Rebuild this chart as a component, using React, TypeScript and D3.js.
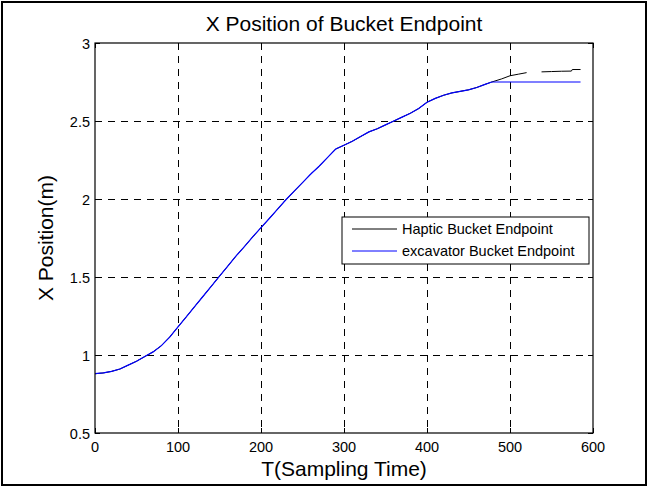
import React from "react";
import * as d3 from "d3";

// Sampling time (x) and bucket endpoint X position (m)
const timeSteps = [0, 10, 20, 30, 40, 50, 60, 70, 80, 90, 100, 110, 120, 130, 140, 150, 160, 170, 180, 190, 200, 210, 220, 230, 240, 250, 260, 270, 280, 290, 300, 310, 320, 330, 340, 350, 360, 370, 380, 390, 400, 410, 420, 430, 440, 450, 460, 470, 478];
const sharedPath = [0.88, 0.885, 0.895, 0.91, 0.935, 0.96, 0.99, 1.02, 1.06, 1.115, 1.18, 1.245, 1.31, 1.375, 1.44, 1.505, 1.57, 1.635, 1.695, 1.757, 1.816, 1.875, 1.935, 1.995, 2.05, 2.105, 2.16, 2.21, 2.265, 2.32, 2.345, 2.37, 2.4, 2.43, 2.45, 2.475, 2.5, 2.525, 2.55, 2.58, 2.62, 2.645, 2.665, 2.68, 2.69, 2.7, 2.715, 2.735, 2.75];

// Tail segments after the two series separate (null = gap in the record)
const hapticTailT = [490, 500, 510, 520, 529, 538, 550, 562, 574, 575, 585];
const hapticTailX: (number | null)[] = [2.77, 2.79, 2.8, 2.81, null, 2.815, 2.817, 2.819, 2.82, 2.83, 2.83];
const excavatorTailT = [480, 585];
const excavatorTailX = [2.75, 2.75];

const xTicks = [0, 100, 200, 300, 400, 500, 600];
const yTicks = [0.5, 1, 1.5, 2, 2.5, 3];

const legendLabels = ["Haptic Bucket Endpoint", "excavator Bucket Endpoint"];
const seriesColors = ["#000000", "#0000ff"];

type Pt = [number, number | null];

export default function App() {
  const W = 648;
  const H = 487;
  const left = 95, right = 593, top = 43, bottom = 433;

  const x = d3.scaleLinear().domain([0, 600]).range([left, right]);
  const y = d3.scaleLinear().domain([0.5, 3]).range([bottom, top]);

  const shared: Pt[] = timeSteps.map((t, i) => [t, sharedPath[i]]);
  const haptic: Pt[] = shared.concat(hapticTailT.map((t, i) => [t, hapticTailX[i]] as Pt));
  const excavator: Pt[] = shared.concat(excavatorTailT.map((t, i) => [t, excavatorTailX[i]] as Pt));

  const line = d3
    .line<Pt>()
    .defined((d) => d[1] !== null)
    .x((d) => x(d[0]))
    .y((d) => y(d[1] as number));

  const font = "Liberation Sans, Arial, Helvetica, sans-serif";
  const tickLen = 5;

  const legX = 342, legY = 217, legW = 247, legH = 47;

  return (
    <svg
      width={W}
      height={H}
      style={{ position: "absolute", left: 0, top: 0, background: "#fff" }}
      fontFamily={font}
    >
      <rect x={0} y={0} width={W} height={H} fill="#fff" />
      <rect x={2} y={2} width={W - 4} height={H - 4} fill="none" stroke="#000" strokeWidth={2} />

      {/* grid */}
      <g stroke="#000" strokeWidth={1} strokeDasharray="7,6" shapeRendering="crispEdges">
        {xTicks.slice(1, -1).map((t) => (
          <line key={"gx" + t} x1={x(t)} x2={x(t)} y1={top} y2={bottom} />
        ))}
        {yTicks.slice(1, -1).map((v) => (
          <line key={"gy" + v} x1={left} x2={right} y1={y(v)} y2={y(v)} />
        ))}
      </g>

      {/* ticks on all four sides */}
      <g stroke="#000" strokeWidth={1} shapeRendering="crispEdges">
        {xTicks.map((t) => (
          <g key={"tx" + t}>
            <line x1={x(t)} x2={x(t)} y1={bottom} y2={bottom - tickLen} />
            <line x1={x(t)} x2={x(t)} y1={top} y2={top + tickLen} />
          </g>
        ))}
        {yTicks.map((v) => (
          <g key={"ty" + v}>
            <line x1={left} x2={left + tickLen} y1={y(v)} y2={y(v)} />
            <line x1={right} x2={right - tickLen} y1={y(v)} y2={y(v)} />
          </g>
        ))}
      </g>

      {/* series */}
      <path d={line(haptic) ?? ""} fill="none" stroke={seriesColors[0]} strokeWidth={1} />
      <path d={line(excavator) ?? ""} fill="none" stroke={seriesColors[1]} strokeWidth={1.2} />

      {/* axes box */}
      <rect x={left} y={top} width={right - left} height={bottom - top} fill="none" stroke="#000" strokeWidth={1.2} />

      {/* tick labels */}
      <g fontSize={14.5} fill="#000">
        {xTicks.map((t) => (
          <text key={"lx" + t} x={x(t)} y={bottom + 19} textAnchor="middle">
            {t}
          </text>
        ))}
        {yTicks.map((v) => (
          <text key={"ly" + v} x={left - 5} y={y(v) + 5.5} textAnchor="end">
            {v}
          </text>
        ))}
      </g>

      {/* legend */}
      <rect x={legX} y={legY} width={legW} height={legH} fill="#fff" stroke="#000" strokeWidth={1} />
      {legendLabels.map((label, i) => {
        const ly = legY + 12 + i * 22;
        return (
          <g key={label}>
            <line x1={legX + 10} x2={legX + 55} y1={ly} y2={ly} stroke={seriesColors[i]} strokeWidth={1} />
            <text x={legX + 60} y={ly + 5} fontSize={14.5} fill="#000">
              {label}
            </text>
          </g>
        );
      })}

      {/* titles */}
      <text x={(left + right) / 2} y={31} textAnchor="middle" fontSize={21} fill="#000">
        X Position of Bucket Endpoint
      </text>
      <text x={(left + right) / 2} y={476} textAnchor="middle" fontSize={21} fill="#000">
        T(Sampling Time)
      </text>
      <text
        transform={`translate(53, ${(top + bottom) / 2}) rotate(-90)`}
        textAnchor="middle"
        fontSize={21}
        fill="#000"
      >
        X Position(m)
      </text>
    </svg>
  );
}
